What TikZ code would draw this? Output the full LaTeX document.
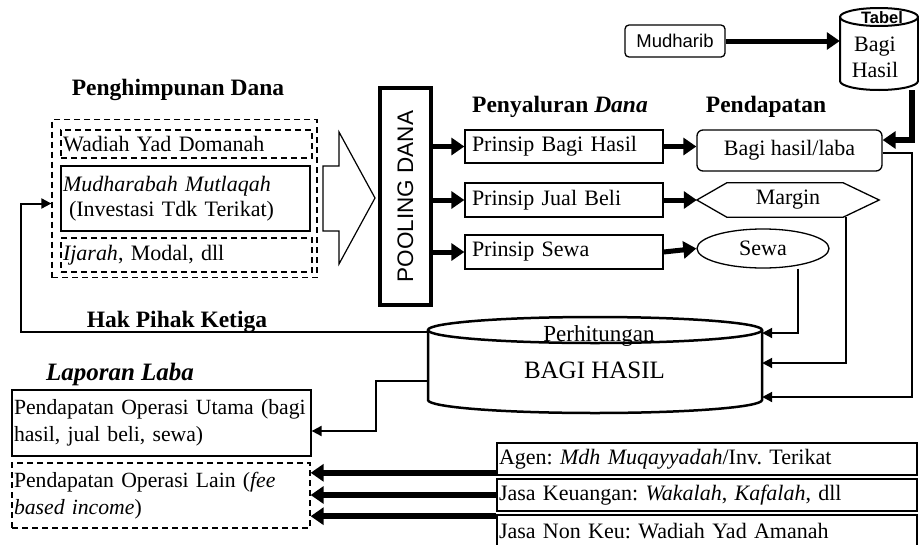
\documentclass[tikz,border=0pt]{standalone}
\usepackage{fontspec}
\setmainfont{Liberation Serif}
\setsansfont{Liberation Sans}
\usetikzlibrary{arrows.meta,shapes.geometric}
\newcommand\fsz[2]{\fontsize{#1}{#2}\selectfont}
\frenchspacing
\begin{document}
\frenchspacing
\begin{tikzpicture}[x=1pt,y=-1pt,
  every node/.style={inner sep=0pt, font=\fsz{22}{26}},
  lbox/.style={draw, line width=1.3pt, align=left, inner xsep=2pt},
  dbox/.style={draw, line width=1.3pt, dash pattern=on 6pt off 4pt, align=left, inner xsep=2pt},
  headt/.style={font=\fsz{23.5}{28}\bfseries},
  fat/.style={line width=5pt, -{Triangle[length=13pt,width=17pt]}},
  lnarr/.style={line width=2pt, -{Triangle[length=10pt,width=10pt]}},
  cyl/.style={line width=2.5pt}
]
\useasboundingbox (0,0) rectangle (919,544);
\clip (0,0) rectangle (919,544);

% ---- Penghimpunan Dana ----
\node[headt] (th1) at (178,90) {Penghimpunan Dana};
\node[dbox, minimum width=265pt, minimum height=158pt] (outer) at (184.5,198.5) {};
\node[dbox, text width=247pt, minimum height=28pt] (wad) at (186.5,144) {Wadiah Yad Domanah};
\node[lbox, text width=245pt, minimum height=65pt, font=\fsz{22}{25}] (mud2) at (185.5,198.5)
  {\textit{Mudharabah Mutlaqah}\\\hspace*{6pt}(Investasi Tdk Terikat)};
\node[dbox, text width=247pt, minimum height=34pt] (ija) at (186.5,255) {\textit{Ijarah}, Modal, dll};

% hollow arrow
\draw[line width=1.2pt] (323,166) -- (339,166) -- (339,132) -- (375,198) -- (339,264) -- (339,231) -- (323,231) -- cycle;

% ---- Pooling ----
\node[draw, line width=3.5pt, minimum width=51pt, minimum height=217pt] (pool) at (405.5,196.5) {};
\node[rotate=90, font=\sffamily\fsz{22.5}{27}] (pooltxt) at (pool.center) {POOLING DANA};

% ---- Penyaluran / Pendapatan ----
\node[headt] (th2) at (560,107) {Penyaluran \textit{Dana}};
\node[headt] (th3) at (766,107) {Pendapatan};

\node[lbox, text width=184pt, inner xsep=7pt, minimum height=33pt] (pbh) at (564,146.5) {Prinsip Bagi Hasil};
\node[lbox, text width=184pt, inner xsep=7pt, minimum height=34pt] (pjb) at (564,200) {Prinsip Jual Beli};
\node[lbox, text width=184pt, inner xsep=7pt, minimum height=34pt] (psw) at (564,252) {Prinsip Sewa};

\node[draw, line width=1.3pt, rounded corners=6pt, minimum width=185pt, minimum height=41pt] (bhl) at (789.5,150.5) {Bagi hasil/laba};
\node[minimum width=182pt, minimum height=34pt] (mar) at (788,200) {Margin};
\draw[line width=1.3pt] (mar.west) -- ([xshift=30pt]mar.north west) -- ([xshift=-36pt]mar.north east)
  -- (mar.east) -- ([xshift=-36pt]mar.south east) -- ([xshift=30pt]mar.south west) -- cycle;
\node[draw, ellipse, line width=1.3pt, minimum width=132pt, minimum height=39pt] (sew) at (763,248.5) {\raisebox{-3pt}{Sewa}};

% ---- Mudharib & Tabel ----
\node[draw, line width=1.3pt, rounded corners=4pt, minimum width=100pt, minimum height=32pt,
  font=\sffamily\fsz{18.5}{22}] (mudh) at (675,41) {Mudharib};
\node[minimum width=78pt, minimum height=82pt] (tab) at (879,49) {};
\draw[line width=2pt] (879,17) ellipse [x radius=39pt, y radius=9pt];
\draw[line width=2pt] (840,17) -- (840,81) arc[start angle=180, end angle=360, x radius=39pt, y radius=9pt] -- (918,17);
\node[font=\sffamily\bfseries\fsz{16.5}{20}] (tabt) at (882,18) {Tabel};
\node[align=center, font=\fsz{22}{26}] (tabb) at (875,57) {Bagi\\Hasil};

% ---- Perhitungan Bagi Hasil cylinder ----
\node[minimum width=334pt, minimum height=96pt] (calc) at (595,365) {};
\draw[cyl] (595,330) ellipse [x radius=167pt, y radius=13pt];
\draw[cyl] (428,330) -- (428,400) arc[start angle=180, end angle=360, x radius=167pt, y radius=13pt] -- (762,330);
\node[font=\fsz{23}{27}] (perh) at (599,336) {Perhitungan};
\node[font=\fsz{25}{30}] (bagi) at (594.5,370) {BAGI HASIL};

% ---- Lower left ----
\node[headt] (hak) at (177,322) {Hak Pihak Ketiga};
\node[font=\fsz{25}{30}\bfseries\itshape] (lap) at (120,374) {Laporan Laba};
\node[lbox, text width=295pt, minimum height=66pt, font=\fsz{21.7}{27}] (utama) at (161.5,423)
  {\mbox{Pendapatan Operasi Utama (bagi}\\hasil, jual beli, sewa)};
\node[dbox, text width=294pt, minimum height=65pt, font=\fsz{21.7}{27}] (lain) at (161,495.5)
  {\mbox{Pendapatan Operasi Lain (\textit{fee}}\\\textit{based income})};

% ---- Lower right ----
\node[lbox, line width=1.6pt, text width=416pt, minimum height=32pt] (agen) at (707,459) {Agen: \textit{Mdh Muqayyadah}/Inv. Terikat};
\node[lbox, line width=1.6pt, text width=416pt, minimum height=32pt] (jk) at (707,495) {Jasa Keuangan: \textit{Wakalah}, \textit{Kafalah}, dll};
\node[lbox, line width=1.6pt, text width=416pt, minimum height=32pt] (nk) at (707,531) {Jasa Non Keu: Wadiah Yad Amanah};

% ---- connectors ----
\foreach \n in {pbh,pjb,psw} \draw[fat] (pool.east |- \n.west) -- (\n.west);
\draw[fat] (pbh.east) -- (bhl.west |- pbh.east);
\draw[fat] (pjb.east) -- (mar.west);
\draw[fat] (psw.east) -- (sew.west);
\draw[fat] (mudh.east) -- (tab.west |- mudh.east);
\draw[line width=5.5pt, -{Triangle[length=13pt,width=17pt]}] ([xshift=33pt]tab.south) |- ([yshift=10.5pt]bhl.east);

\coordinate (r1) at (912,397);
\draw[lnarr] ([yshift=-2.5pt]bhl.east) -| (r1) -- (calc.east |- r1);
\coordinate (r2) at (846,363);
\draw[lnarr] (mar.south -| r2) -- (r2) -- (calc.east |- r2);
\coordinate (r3) at (798,333);
\draw[lnarr] (sew.south -| r3) -- (r3) -- (calc.east |- r3);
\coordinate (hk) at (21,332);
\draw[lnarr] (calc.west |- hk) -- (hk) |- ([yshift=-5pt]outer.west);
\coordinate (ut) at (376,381);
\draw[lnarr] (calc.west |- ut) -- (ut) |- ([yshift=-8pt]utama.east);

\draw[fat, line width=5.5pt] ([yshift=3pt]agen.south west) coordinate (a1) -- (a1 -| lain.east);
\draw[fat, line width=5.5pt] (jk.west) -- (jk.west -| lain.east);
\draw[fat, line width=5.5pt] ([yshift=-2pt]nk.north west) coordinate (a3) -- (a3 -| lain.east);
\end{tikzpicture}
\end{document}
